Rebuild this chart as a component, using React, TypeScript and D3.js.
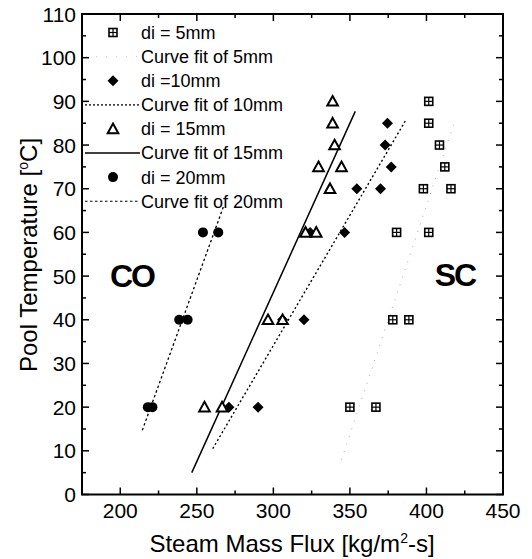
import React from "react";
import * as d3 from "d3";

const flux5 = [350, 367, 378, 388.5, 380.5, 401.5, 398, 416, 412, 408.5, 401.5, 401.5];
const temp5 = [20, 20, 40, 40, 60, 60, 70, 70, 75, 80, 85, 90];
const flux10 = [271, 290, 306, 320, 324, 346.5, 354.5, 370, 377, 373, 374.5];
const temp10 = [20, 20, 40, 40, 60, 60, 70, 70, 75, 80, 85];
const flux15 = [255, 266.5, 296.5, 306, 321, 328, 337, 329.5, 344.5, 340, 338.7, 338.7];
const temp15 = [20, 20, 40, 40, 60, 60, 70, 75, 75, 80, 85, 90];
const flux20 = [218, 221, 238.5, 244, 254, 264];
const temp20 = [20, 20, 40, 40, 60, 60];

const fitFlux5 = [344.5, 419];
const fitTemp5 = [8, 86];
const fitFlux10 = [260.4, 387];
const fitTemp10 = [10.5, 86];
const fitFlux15 = [246.7, 353.5];
const fitTemp15 = [5, 87.7];
const fitFlux20 = [214.4, 267.5];
const fitTemp20 = [14.7, 66];

const xTicks = [200, 250, 300, 350, 400, 450];
const yTicks = [0, 10, 20, 30, 40, 50, 60, 70, 80, 90, 100, 110];
const legendLabels = [
  "di = 5mm",
  "Curve fit of 5mm",
  "di =10mm",
  "Curve fit of 10mm",
  "di = 15mm",
  "Curve fit of 15mm",
  "di = 20mm",
  "Curve fit of 20mm",
];

const W = 532;
const H = 559;
const L = 82, R = 503, T = 14, B = 494.5;
const FONT = "'Liberation Sans', Arial, Helvetica, sans-serif";

const x = d3.scaleLinear().domain([175, 450]).range([L, R]);
const y = d3.scaleLinear().domain([0, 110]).range([B, T]);

function Square({ cx, cy }: { cx: number; cy: number }) {
  const s = 4;
  return (
    <g>
      <rect x={cx - s} y={cy - s} width={2 * s} height={2 * s} fill="white" stroke="black" strokeWidth={1.6} />
      <line x1={cx - s} x2={cx + s} y1={cy} y2={cy} stroke="black" strokeWidth={1.2} />
      <line x1={cx} x2={cx} y1={cy - s} y2={cy + s} stroke="black" strokeWidth={1.2} />
    </g>
  );
}
function Diamond({ cx, cy }: { cx: number; cy: number }) {
  const s = 5.5;
  return <path d={`M${cx},${cy - s}L${cx + s},${cy}L${cx},${cy + s}L${cx - s},${cy}Z`} fill="black" />;
}
function Triangle({ cx, cy }: { cx: number; cy: number }) {
  const s = 5.3;
  return (
    <path
      d={`M${cx},${cy - s}L${cx + s},${cy + s * 0.8}L${cx - s},${cy + s * 0.8}Z`}
      fill="white"
      stroke="black"
      strokeWidth={2}
      strokeLinejoin="miter"
    />
  );
}
function Dot({ cx, cy }: { cx: number; cy: number }) {
  return <circle cx={cx} cy={cy} r={5} fill="black" />;
}

export default function App() {
  const line = d3
    .line<[number, number]>()
    .x((d) => x(d[0]))
    .y((d) => y(d[1]));
  const fit = (fx: number[], fy: number[]) => line(fx.map((v, i) => [v, fy[i]] as [number, number])) || "";

  const minorX = d3.range(175, 451, 25);
  const minorY = d3.range(0, 111, 5);

  const legY0 = 32.5;
  const legDy = 24.1;
  const legSym = 113;
  const legText = 141;

  return (
    <svg
      width={W}
      height={H}
      style={{ position: "absolute", left: 0, top: 0, background: "white" }}
      fontFamily={FONT}
    >
      <rect x={0} y={0} width={W} height={H} fill="white" />

      {/* frame */}
      <rect x={L} y={T} width={R - L} height={B - T} fill="none" stroke="black" strokeWidth={2} />

      {/* ticks */}
      {minorX.map((v) => {
        const major = v % 50 === 0;
        const len = major ? 7 : 4;
        return (
          <g key={"tx" + v}>
            <line x1={x(v)} x2={x(v)} y1={B} y2={B - len} stroke="black" strokeWidth={1.5} />
            <line x1={x(v)} x2={x(v)} y1={T} y2={T + len} stroke="black" strokeWidth={1.5} />
          </g>
        );
      })}
      {minorY.map((v) => {
        const major = v % 10 === 0;
        const len = major ? 7 : 4;
        return (
          <g key={"ty" + v}>
            <line x1={L} x2={L + len} y1={y(v)} y2={y(v)} stroke="black" strokeWidth={1.5} />
            <line x1={R} x2={R - len} y1={y(v)} y2={y(v)} stroke="black" strokeWidth={1.5} />
          </g>
        );
      })}

      {/* tick labels */}
      {xTicks.map((v) => (
        <text key={"lx" + v} x={x(v)} y={518} textAnchor="middle" fontSize={21}>
          {v}
        </text>
      ))}
      {yTicks.map((v) => (
        <text key={"ly" + v} x={76} y={y(v)} dy="0.36em" textAnchor="end" fontSize={21}>
          {v}
        </text>
      ))}

      {/* axis titles */}
      <text x={292} y={552} textAnchor="middle" fontSize={24}>
        Steam Mass Flux [kg/m<tspan dy={-9} fontSize={14}>2</tspan>
        <tspan dy={9}>-s]</tspan>
      </text>
      <text transform={`translate(37,${255}) rotate(-90)`} textAnchor="middle" fontSize={24}>
        Pool Temperature [<tspan dy={-9} fontSize={14}>o</tspan>
        <tspan dy={9}>C]</tspan>
      </text>

      {/* fit lines */}
      <path d={fit(fitFlux5, fitTemp5)} fill="none" stroke="#aaa" strokeWidth={1} strokeDasharray="1,7" />
      <path d={fit(fitFlux10, fitTemp10)} fill="none" stroke="black" strokeWidth={1.4} strokeDasharray="2,2.5" />
      <path d={fit(fitFlux15, fitTemp15)} fill="none" stroke="black" strokeWidth={1.5} />
      <path d={fit(fitFlux20, fitTemp20)} fill="none" stroke="black" strokeWidth={1.3} strokeDasharray="2.5,2.5" />

      {/* points */}
      {flux20.map((v, i) => (
        <Dot key={"p20" + i} cx={x(v)} cy={y(temp20[i])} />
      ))}
      {flux10.map((v, i) => (
        <Diamond key={"p10" + i} cx={x(v)} cy={y(temp10[i])} />
      ))}
      {flux15.map((v, i) => (
        <Triangle key={"p15" + i} cx={x(v)} cy={y(temp15[i])} />
      ))}
      {flux5.map((v, i) => (
        <Square key={"p5" + i} cx={x(v)} cy={y(temp5[i])} />
      ))}

      {/* region labels */}
      <text x={132} y={287} textAnchor="middle" fontSize={32} fontWeight="bold" letterSpacing={-2}>
        CO
      </text>
      <text x={455} y={286} textAnchor="middle" fontSize={32} fontWeight="bold" letterSpacing={-2}>
        SC
      </text>

      {/* legend */}
      {legendLabels.map((lab, i) => (
        <text key={"lg" + i} x={legText} y={legY0 + i * legDy} dy="0.36em" fontSize={18}>
          {lab}
        </text>
      ))}
      <Square cx={legSym} cy={legY0} />
      <line x1={86} x2={139} y1={legY0 + legDy} y2={legY0 + legDy} stroke="#ccc" strokeWidth={1} strokeDasharray="1,9" />
      <Diamond cx={legSym} cy={legY0 + 2 * legDy} />
      <line x1={85} x2={139} y1={legY0 + 3 * legDy} y2={legY0 + 3 * legDy} stroke="black" strokeWidth={1.2} strokeDasharray="2,2" />
      <Triangle cx={legSym} cy={legY0 + 4 * legDy} />
      <line x1={85} x2={140} y1={legY0 + 5 * legDy} y2={legY0 + 5 * legDy} stroke="black" strokeWidth={1.4} />
      <Dot cx={legSym} cy={legY0 + 6 * legDy} />
      <line x1={85} x2={139} y1={legY0 + 7 * legDy} y2={legY0 + 7 * legDy} stroke="black" strokeWidth={1.1} strokeDasharray="2.5,2.5" />
    </svg>
  );
}
